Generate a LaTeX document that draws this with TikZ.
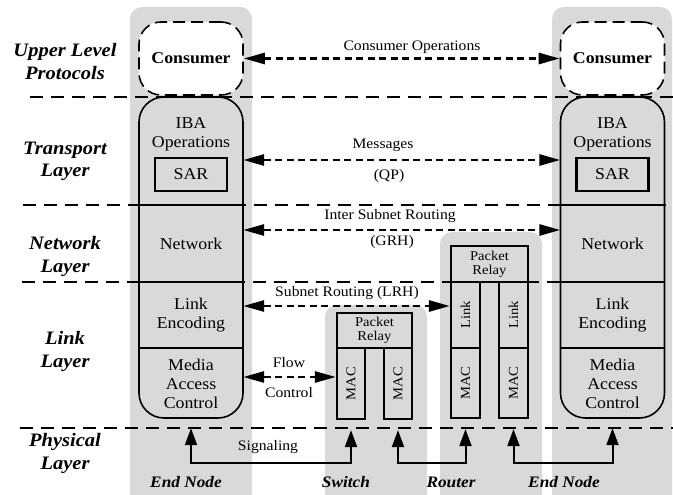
\documentclass[tikz,border=0pt]{standalone}
\usepackage{fontspec}
\setmainfont{Liberation Serif}[FakeStretch=1.08]
\usetikzlibrary{arrows.meta}

\definecolor{colgrey}{RGB}{217,217,217}

\begin{document}
\begin{tikzpicture}[x=1pt,y=-1pt,
  column/.style={fill=colgrey, rounded corners=12pt},
  sepline/.style={line width=2pt, dash pattern=on 13pt off 8pt},
  stackbox/.style={draw, line width=1.6pt, fill=colgrey, rounded corners=25pt,
    inner sep=0pt, minimum width=104pt, minimum height=321pt},
  section/.style={inner sep=0pt, minimum width=104pt},
  divider/.style={line width=1.6pt},
  consumer/.style={draw, fill=white, line width=1.6pt, dash pattern=on 12pt off 6pt,
    rounded corners=22pt, minimum width=104pt, minimum height=73pt, inner sep=0pt,
    font=\fontsize{16.5}{19}\selectfont\bfseries},
  boxlbl/.style={inner sep=0pt, align=center, font=\fontsize{16.5}{18.8}\selectfont},
  sarbox/.style={draw, line width=2.6pt, minimum width=72pt, minimum height=33pt,
    inner sep=0pt, font=\fontsize{16.5}{19}\selectfont},
  unit/.style={draw, line width=2.2pt, fill=colgrey, inner sep=0pt, align=center,
    font=\fontsize{13.5}{15}\selectfont},
  arrlbl/.style={inner sep=0pt, font=\fontsize{14.5}{16}\selectfont},
  layerlbl/.style={inner sep=0pt, align=center,
    font=\fontsize{19}{22.5}\selectfont\bfseries\itshape},
  devlbl/.style={inner sep=0pt, font=\fontsize{16}{18}\selectfont\bfseries\itshape},
  dasharrow/.style={line width=2.8pt, dash pattern=on 7pt off 4.5pt,
    {Triangle[length=21pt,width=11pt]}-{Triangle[length=21pt,width=11pt]}},
  sigline/.style={line width=2pt, shorten <=10pt, shorten >=10pt,
    {Triangle[length=17pt,width=12pt]}-{Triangle[length=17pt,width=12pt]}}
]
\useasboundingbox (0,0) rectangle (673,495);

% grey device columns
\fill[column] (130,7) rectangle (252,530);
\fill[column] (552,7) rectangle (672,530);
\fill[column] (325,305) rectangle (427,530);
\fill[column] (440,232) rectangle (542,530);

% layer separators
\draw[sepline] (30,97) -- (673,97);
\draw[sepline] (23,205) -- (673,205);
\draw[sepline] (22,282) -- (673,282);
\draw[sepline] (20,428) -- (673,428);

% layer names
\node[layerlbl] (lyulp) at (65,61.5) {Upper Level\\Protocols};
\node[layerlbl] (lytr) at (65,161.5) {Transport\\Layer};
\node[layerlbl] (lynet) at (65,256.5) {Network\\Layer};
\node[layerlbl] (lylink) at (65,351.5) {Link\\Layer};
\node[layerlbl] (lyphy) at (65,453.5) {Physical\\Layer};

% left end node stack
\node[stackbox] (lstack) at (191,257.5) {};
\node[section, minimum height=108pt] (liba) at (191,151) {};
\node[section, minimum height=77pt] (lnet) at (191,243.5) {};
\node[section, minimum height=66pt] (llink) at (191,315) {};
\node[section, minimum height=70pt] (lmac) at (191,383) {};
\draw[divider] (lnet.north west) -- (lnet.north east);
\draw[divider] (llink.north west) -- (llink.north east);
\draw[divider] (lmac.north west) -- (lmac.north east);
\node[boxlbl] (libat) at (191,134) {IBA\\Operations};
\node[sarbox] (lsar) at (191,174.5) {SAR};
\node[boxlbl] (lnett) at (191,244) {Network};
\node[boxlbl] (llinkt) at (191,315) {Link\\Encoding};
\node[boxlbl] (lmact) at (191,384) {Media\\Access\\Control};
\node[consumer] (lcons) at (191,58.5) {Consumer};

% right end node stack
\node[stackbox] (rstack) at (612.5,257.5) {};
\node[section, minimum height=108pt] (riba) at (612.5,151) {};
\node[section, minimum height=77pt] (rnet) at (612.5,243.5) {};
\node[section, minimum height=66pt] (rlink) at (612.5,315) {};
\node[section, minimum height=70pt] (rmac) at (612.5,383) {};
\draw[divider] (rnet.north west) -- (rnet.north east);
\draw[divider] (rlink.north west) -- (rlink.north east);
\draw[divider] (rmac.north west) -- (rmac.north east);
\node[boxlbl] (ribat) at (612.5,134) {IBA\\Operations};
\node[sarbox] (rsar) at (612.5,174.5) {SAR};
\node[boxlbl] (rnett) at (612.5,244) {Network};
\node[boxlbl] (rlinkt) at (612.5,315) {Link\\Encoding};
\node[boxlbl] (rmact) at (612.5,384) {Media\\Access\\Control};
\node[consumer] (rcons) at (612.5,58.5) {Consumer};

% switch
\node[unit, minimum width=75pt, minimum height=35pt] (spr) at (374.5,330.5) {Packet\\[-1pt]Relay};
\node[unit, minimum width=28pt, minimum height=71pt] (smac1) at (351,383.5) {\rotatebox{90}{MAC}};
\node[unit, minimum width=28pt, minimum height=71pt] (smac2) at (398,383.5) {\rotatebox{90}{MAC}};

% router
\node[unit, minimum width=77pt, minimum height=36pt] (rpr) at (489.5,264) {Packet\\[-1pt]Relay};
\node[unit, minimum width=29pt, minimum height=66pt] (rlink1) at (465.5,315) {\rotatebox{90}{Link}};
\node[unit, minimum width=29pt, minimum height=66pt] (rlink2) at (513.5,315) {\rotatebox{90}{Link}};
\node[unit, minimum width=29pt, minimum height=70pt] (rmac1) at (465.5,383) {\rotatebox{90}{MAC}};
\node[unit, minimum width=29pt, minimum height=70pt] (rmac2) at (513.5,383) {\rotatebox{90}{MAC}};

% peer communication
\draw[dasharrow] (lcons.east) -- (rcons.west);
\draw[dasharrow] ([yshift=-9pt]liba.east) -- ([yshift=-9pt]riba.west);
\draw[dasharrow] ([yshift=13.5pt]lnet.east) -- ([yshift=13.5pt]rnet.west);
\draw[dasharrow] ([yshift=9pt]llink.east) -- ([yshift=9pt]rlink1.west);
\draw[dasharrow] ([yshift=6pt]lmac.east) -- ([yshift=6.5pt]smac1.west);

\node[arrlbl] (tcons) at (412,47) {Consumer Operations};
\node[arrlbl] (tmsg) at (383,145) {Messages};
\node[arrlbl] (tqp) at (389,176) {(QP)};
\node[arrlbl] (tisr) at (390,216) {Inter Subnet Routing};
\node[arrlbl] (tgrh) at (392,242) {(GRH)};
\node[arrlbl] (tlrh) at (347,293) {Subnet Routing (LRH)};
\node[arrlbl] (tflow) at (289,363) {Flow};
\node[arrlbl] (tctrl) at (289,393) {Control};

% physical signaling
\coordinate (sigY) at (0,463);
\draw[sigline] (lmac.south) -- (lmac.south |- sigY) -- (smac1.south |- sigY) -- (smac1.south);
\draw[sigline] (smac2.south) -- (smac2.south |- sigY) -- (rmac1.south |- sigY) -- (rmac1.south);
\draw[sigline] (rmac2.south) -- (rmac2.south |- sigY) -- (rmac.south |- sigY) -- (rmac.south);
\node[arrlbl] (tsig) at (268,447) {Signaling};

% device names
\node[devlbl] (dend1) at (186,482) {End Node};
\node[devlbl] (dsw) at (346,482) {Switch};
\node[devlbl] (drt) at (451,482) {Router};
\node[devlbl] (dend2) at (564,482) {End Node};
\end{tikzpicture}
\end{document}
